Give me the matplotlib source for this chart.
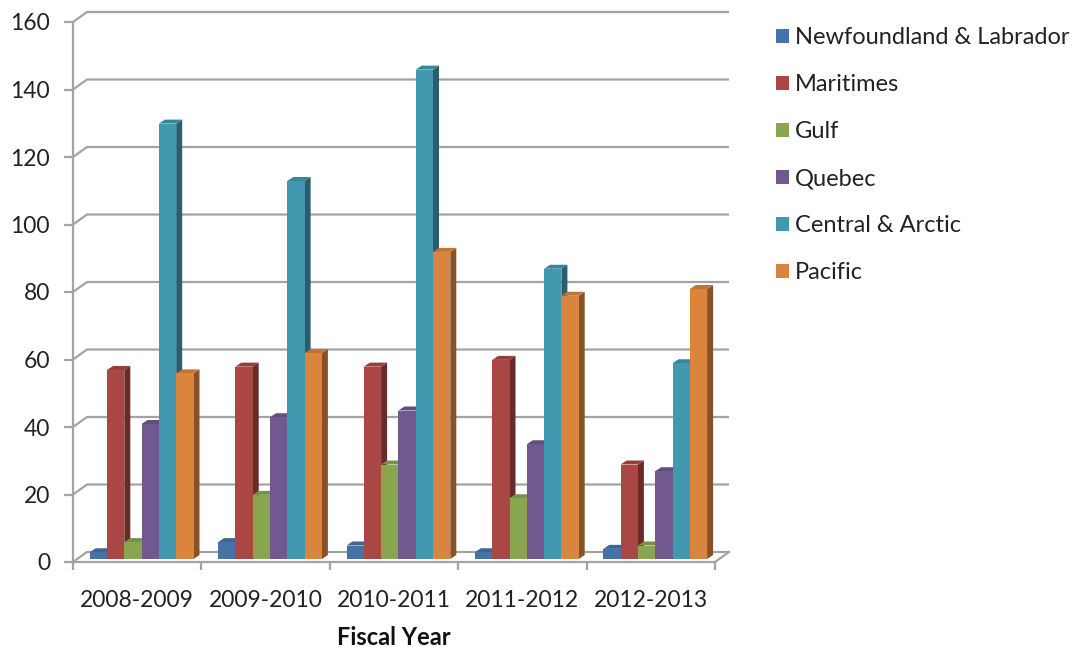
import numpy as np
import matplotlib.pyplot as plt
import matplotlib.colors as mcolors
from matplotlib.patches import Polygon, Patch
from matplotlib.transforms import ScaledTranslation

plt.rcParams['font.family'] = ['Lato', 'DejaVu Sans']

years = ['2008-2009', '2009-2010', '2010-2011', '2011-2012', '2012-2013']
regions = ['Newfoundland & Labrador', 'Maritimes', 'Gulf', 'Quebec', 'Central & Arctic', 'Pacific']
newfoundland = [2, 5, 4, 2, 3]
maritimes = [56, 57, 57, 59, 28]
gulf = [5, 19, 28, 18, 4]
quebec = [40, 42, 44, 34, 26]
central_arctic = [129, 112, 145, 86, 58]
pacific = [55, 61, 91, 78, 80]
series = [newfoundland, maritimes, gulf, quebec, central_arctic, pacific]
colors = ['#4572A7', '#AA4643', '#89A54E', '#71588F', '#4198AF', '#DB843D']
grid_color = '#A3A3A3'

W, H = 1081, 647
fig = plt.figure(figsize=(W / 100, H / 100), dpi=100)
# plot area in pixels (front plane)
left, right, bottom, top = 73, 715, 562, 22
ax = fig.add_axes([left / W, 1 - bottom / H, (right - left) / W, (bottom - top) / H])
ax.set_xlim(-0.5, 4.5)
ax.set_ylim(0, 160)
for s in ax.spines.values():
    s.set_visible(False)

# pixel -> data unit factors
sx = 5 / (right - left)
sy = 160 / (bottom - top)

# back wall gridlines and floor (fake 3d)
wall_dx, wall_dy = 14 * sx, 10 * sy
for v in range(0, 161, 20):
    ax.plot([-0.5, -0.5 + wall_dx, 4.5 + wall_dx], [v, v + wall_dy, v + wall_dy],
            color=grid_color, lw=1.6, clip_on=False, zorder=1, solid_capstyle='butt')
ax.plot([-0.5, 4.5, 4.5 + wall_dx], [0, 0, wall_dy], color=grid_color, lw=1.6, clip_on=False, zorder=1)
ax.plot([-0.5, -0.5], [0, 160], color=grid_color, lw=1.6, clip_on=False, zorder=1)

# bars: front face + top + side, shifted a little into the depth
shift = ax.transData + ScaledTranslation(4.4 / 100, 3 / 100, fig.dpi_scale_trans)
bar_w = 17.3 * sx
depth_dx, depth_dy = 6 * sx, 4 * sy
x = np.arange(len(years))
for i, (vals, c) in enumerate(zip(series, colors)):
    rgb = np.array(mcolors.to_rgb(c))
    side_c = rgb * 0.62
    top_c = rgb * 0.88
    xs = x + (i - 2.5) * bar_w
    bars = ax.bar(xs, vals, bar_w, color=c, linewidth=0, zorder=2 + 0.1 * i, label=regions[i])
    for b, xc, v in zip(bars, xs, vals):
        b.set_transform(shift)
        b.set_clip_on(False)
        x0, x1 = xc - bar_w / 2, xc + bar_w / 2
        side = Polygon([(x1, 0), (x1 + depth_dx, depth_dy), (x1 + depth_dx, v + depth_dy), (x1, v)],
                       closed=True, facecolor=side_c, lw=0, zorder=2 + 0.1 * i - 0.01, transform=shift,
                       clip_on=False)
        topf = Polygon([(x0, v), (x0 + depth_dx, v + depth_dy), (x1 + depth_dx, v + depth_dy), (x1, v)],
                       closed=True, facecolor=top_c, lw=0, zorder=2 + 0.1 * i - 0.01, transform=shift,
                       clip_on=False)
        ax.add_patch(side)
        ax.add_patch(topf)

# ticks
ax.set_yticks(range(0, 161, 20))
ax.tick_params(axis='y', length=6.5, width=1.6, color=grid_color, pad=10, labelsize=16.5, labelcolor='#222222')
ax.set_xticks(x, years)
ax.set_xticks(np.arange(-0.5, 5, 1), minor=True)
ax.tick_params(axis='x', which='major', length=0, pad=20, labelsize=16.5, labelcolor='#222222')
ax.tick_params(axis='x', which='minor', length=6, width=1.6, color=grid_color)
ax.set_xlabel('Fiscal Year', fontsize=17, fontweight='bold', labelpad=11, color='#111111')

handles = [Patch(facecolor=c) for c in colors]
fig.legend(handles, regions, loc='upper left', bbox_to_anchor=(767 / W, 1 - 18 / H), frameon=False,
           fontsize=17, handlelength=0.55, handleheight=0.55, handletextpad=0.25, labelspacing=1.1,
           labelcolor='#222222', borderaxespad=0)

fig.savefig('out.png', dpi=100)
